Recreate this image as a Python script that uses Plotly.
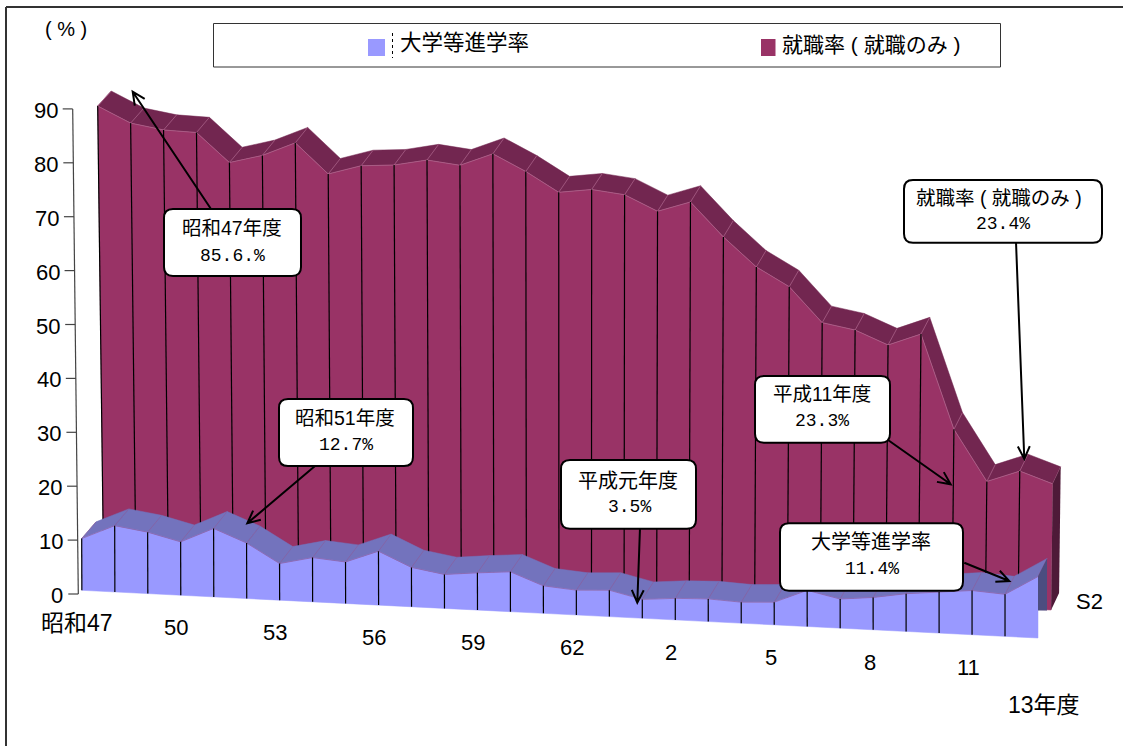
import math
import plotly.graph_objects as go

# ---- data ----
years = list(range(30))
shingaku = [9.6, 12.3, 11.4, 9.9, 12.7, 10.3, 6.8, 8.2, 7.7, 10.0, 7.3, 6.3, 6.9, 7.4, 5.1,
            4.6, 4.9, 3.5, 4.0, 4.2, 3.9, 4.2, 6.7, 5.4, 6.0, 7.0, 7.6, 8.2, 7.8, 11.4]
shushoku = [85.6, 82.7, 81.7, 81.5, 76.2, 77.8, 80.4, 74.9, 76.7, 77.1, 78.3, 77.6, 80.0, 77.0, 73.4,
            74.2, 73.5, 70.7, 72.7, 66.5, 61.2, 57.8, 51.4, 50.3, 47.8, 50.1, 32.7, 23.3, 25.5, 23.4]
y_ticks = [0, 10, 20, 30, 40, 50, 60, 70, 80, 90]
cat_ticks = [(0, "昭和47"), (3, "50"), (6, "53"), (9, "56"), (12, "59"), (15, "62"),
             (18, "2"), (21, "5"), (24, "8"), (27, "11")]
series_names = ["大学等進学率", "就職率\u00a0( 就職のみ\u00a0)"]

# ---- oblique projection: axes are in units of (year index, percent) ----
W, H = 1123, 746
PX_X, PX_Y = 32.93, 5.39      # pixels per year step, pixels per percent
X0_PX, Y0_PX = 97.7, 594.0    # pixel position of index 0, value 0 of the axes
n = len(years)


def px_to_x(px):
    return (px - X0_PX) / PX_X


def py_to_y(py):
    return (Y0_PX - py) / PX_Y


def lerp(a, b, i):
    return a + (b - a) * i / (n - 1)


layers = {
    "back": dict(x0=97.7, x1=1052.7, b0=567.4, b1=610.0,
                 dx=(13.5, 8.0), dy=(15.0, 17.0), slant=(0.0128, -0.0128)),
    "front": dict(x0=81.7, x1=1038.0, b0=590.3, b1=638.0,
                  dx=(14.3, 9.0), dy=(16.7, 18.0), slant=(0.003, 0.0)),
}


def face_pt(L, i, v):
    c = layers[L]
    return lerp(c["x0"], c["x1"], i), lerp(c["b0"], c["b1"], i) - v * PX_Y


def base_pt(L, i, v):
    c = layers[L]
    x, _ = face_pt(L, i, v)
    return x + lerp(*c["slant"], i) * v * PX_Y, lerp(c["b0"], c["b1"], i)


def rear(L, i, p):
    c = layers[L]
    return p[0] + lerp(*c["dx"], i), p[1] - lerp(*c["dy"], i)


def to_axes(pts):
    xs, ys = [], []
    for p in pts:
        if p is None:
            xs.append(None)
            ys.append(None)
        else:
            xs.append(px_to_x(p[0]))
            ys.append(py_to_y(p[1]))
    return xs, ys


fig = go.Figure()


def poly(pts, fill, name, line=None, width=0):
    xs, ys = to_axes(pts)
    fig.add_trace(go.Scatter(x=xs, y=ys, mode="lines", fill="toself", fillcolor=fill, name=name,
                             line=dict(color=line or fill, width=width), hoverinfo="skip",
                             showlegend=False))


def lines(pts, color, width, name):
    xs, ys = to_axes(pts)
    fig.add_trace(go.Scatter(x=xs, y=ys, mode="lines", line=dict(color=color, width=width),
                             name=name, hoverinfo="skip", showlegend=False))


def draw_series(L, vals, face, ridge, endc, edge, name, end_bottom_py=None):
    # ridge
    pts = []
    for i in range(n - 1):
        a, b = face_pt(L, i, vals[i]), face_pt(L, i + 1, vals[i + 1])
        pts += [a, b, rear(L, i + 1, b), rear(L, i, a), a, None]
    poly(pts[:-1], ridge, name + " top", ridge, 0.5)
    # face
    top = [face_pt(L, i, vals[i]) for i in range(n)]
    bottom = [base_pt(L, i, vals[i]) for i in reversed(range(n))]
    poly(top + bottom + [top[0]], face, name, face, 0.5)
    # pale edges on the ridge
    pts = []
    for i in range(n):
        a = face_pt(L, i, vals[i])
        pts += [a, rear(L, i, a), None]
    pts += top
    lines(pts, edge, 0.7, name + " edges")
    # year lines
    pts = []
    for i in range(n - 1):
        pts += [face_pt(L, i, vals[i]), base_pt(L, i, vals[i]), None]
    lines(pts[:-1], "#000000", 1.2, name + " grid")
    # end cap
    a = face_pt(L, n - 1, vals[-1])
    ra = rear(L, n - 1, a)
    b = base_pt(L, n - 1, vals[-1])
    rb = rear(L, n - 1, b)
    if end_bottom_py is not None:
        b = (b[0], end_bottom_py)
        rb = (rb[0], end_bottom_py)
    poly([a, ra, rb, b, a], endc, name + " end")


draw_series("back", shushoku, "#993366", "#722650", "#4e1a38", "#b0688f", series_names[1])
draw_series("front", shingaku, "#9999FF", "#7373BD", "#4c4d80", "#8a5f9e", series_names[0],
            end_bottom_py=610.5)

# value axis (slightly leaning, as drawn)
ax_x = lambda v: 78.3 - 5.6 * v / max(y_ticks)
pts = [(ax_x(0), Y0_PX - 0 * PX_Y), (ax_x(90), Y0_PX - 90 * PX_Y), None]
for v in y_ticks:
    y = Y0_PX - v * PX_Y
    pts += [(ax_x(v) - 10, y), (ax_x(v), y), None]
lines(pts[:-1], "#444444", 1.2, "value axis")


# ---- overlay helpers (pixel positions -> paper) ----
def fx(x):
    return x / W


def fy(y):
    return 1 - y / H


annotations = []
shapes = []
SANS = "Liberation Sans, Noto Sans CJK JP"
MONO = "Liberation Mono, Noto Sans CJK JP"


def text(x, y, s, size=20, family=SANS, anchor="center"):
    annotations.append(dict(x=fx(x), y=fy(y), xref="paper", yref="paper", text=s, showarrow=False,
                            xanchor=anchor, yanchor="middle",
                            font=dict(size=size, family=family, color="#000000")))


def hline(x0, y0, x1, y1, color="#333333", width=1, dash="solid"):
    shapes.append(dict(type="line", xref="paper", yref="paper", x0=fx(x0), y0=fy(y0), x1=fx(x1), y1=fy(y1),
                       line=dict(color=color, width=width, dash=dash), layer="above"))


def callout(x0, y0, x1, y1, r=9):
    P = lambda x, y: f"{fx(x):.5f},{fy(y):.5f}"
    d = (f"M {P(x0 + r, y0)} L {P(x1 - r, y0)} Q {P(x1, y0)} {P(x1, y0 + r)} "
         f"L {P(x1, y1 - r)} Q {P(x1, y1)} {P(x1 - r, y1)} L {P(x0 + r, y1)} "
         f"Q {P(x0, y1)} {P(x0, y1 - r)} L {P(x0, y0 + r)} Q {P(x0, y0)} {P(x0 + r, y0)} Z")
    shapes.append(dict(type="path", xref="paper", yref="paper", path=d, fillcolor="#FFFFFF",
                       line=dict(color="#000000", width=2), layer="above"))


def arrow(x0, y0, x1, y1, head=14, spread=0.44):
    ang = math.atan2(y0 - y1, x0 - x1)
    hx = [x1 + head * math.cos(ang + s) for s in (spread, -spread)]
    hy = [y1 + head * math.sin(ang + s) for s in (spread, -spread)]
    P = lambda x, y: f"{fx(x):.5f},{fy(y):.5f}"
    d = (f"M {P(x0, y0)} L {P(x1, y1)} M {P(hx[0], hy[0])} L {P(x1, y1)} L {P(hx[1], hy[1])}")
    shapes.append(dict(type="path", xref="paper", yref="paper", path=d,
                       line=dict(color="#000000", width=2), layer="above"))


# frame
hline(6, 7, W, 7, "#333333", 2)
hline(6, 7, 6, H, "#333333", 2)

# legend
shapes.append(dict(type="rect", xref="paper", yref="paper", x0=fx(213.5), x1=fx(1000.5), y0=fy(23.5), y1=fy(67),
                   line=dict(color="#333333", width=1), fillcolor="#FFFFFF", layer="above"))
shapes.append(dict(type="rect", xref="paper", yref="paper", x0=fx(368), x1=fx(385), y0=fy(39), y1=fy(56),
                   line=dict(width=0), fillcolor="#9999FF", layer="above"))
shapes.append(dict(type="rect", xref="paper", yref="paper", x0=fx(761), x1=fx(775.5), y0=fy(39), y1=fy(56),
                   line=dict(width=0), fillcolor="#993366", layer="above"))
hline(392.5, 33, 392.5, 58, "#000000", 1, "dot")
text(464.5, 43.5, series_names[0], 21.5)
text(871.5, 44, series_names[1], 21)
text(66, 29, "(\u00a0%\u00a0)", 20)

# axis labels
for v in y_ticks:
    text(ax_x(v) - 13, Y0_PX - v * PX_Y + 1.5, str(v), 22, anchor="right")
for i, lab in cat_ticks:
    text(76.5 + 33.05 * i, 623 + 1.65 * i, lab, 23 if i == 0 else 22)
text(1044, 705, "13年度", 23)
text(1089, 601, "S2", 22)

# callouts: box, two text lines, arrow
arrow(211, 209, 132.7, 91.7)
arrow(315, 466, 247.3, 523.3)
arrow(640, 528, 637.3, 602.7)
arrow(888, 440, 950.7, 484.3)
arrow(1016, 242, 1024.3, 459)
arrow(964.3, 562.7, 1009.3, 581)
callout(164, 209, 301, 276)
callout(279, 399, 413, 466)
callout(561, 460, 696, 528.7)
callout(755, 376, 890, 442.7)
callout(904, 180, 1102, 242.7)
callout(780, 523.3, 963, 590.7)
text(232, 228, "昭和47年度", 19.5)
text(232, 256, "85.6.%", 18, MONO)
text(345, 418, "昭和51年度", 19.5)
text(346, 445, "12.7%", 18, MONO)
text(628, 481, "平成元年度", 20)
text(629, 507, "3.5%", 18, MONO)
text(822, 394, "平成11年度", 19.5)
text(822, 421, "23.3%", 18, MONO)
text(999, 198, "就職率\u00a0( 就職のみ\u00a0)", 19.5)
text(1003, 224, "23.4%", 18, MONO)
text(871, 542, "大学等進学率", 20)
text(872, 569, "11.4%", 18, MONO)

fig.update_layout(
    width=W, height=H, margin=dict(l=0, r=0, t=0, b=0), autosize=False,
    paper_bgcolor="#FFFFFF", plot_bgcolor="#FFFFFF", showlegend=False,
    xaxis=dict(visible=False, range=[px_to_x(0), px_to_x(W)], fixedrange=True),
    yaxis=dict(visible=False, range=[py_to_y(H), py_to_y(0)], fixedrange=True),
    shapes=shapes, annotations=annotations,
)
fig.write_html("out.html", config={"displayModeBar": False},
               post_script="document.body.style.margin='0';document.body.style.overflow='hidden';")
